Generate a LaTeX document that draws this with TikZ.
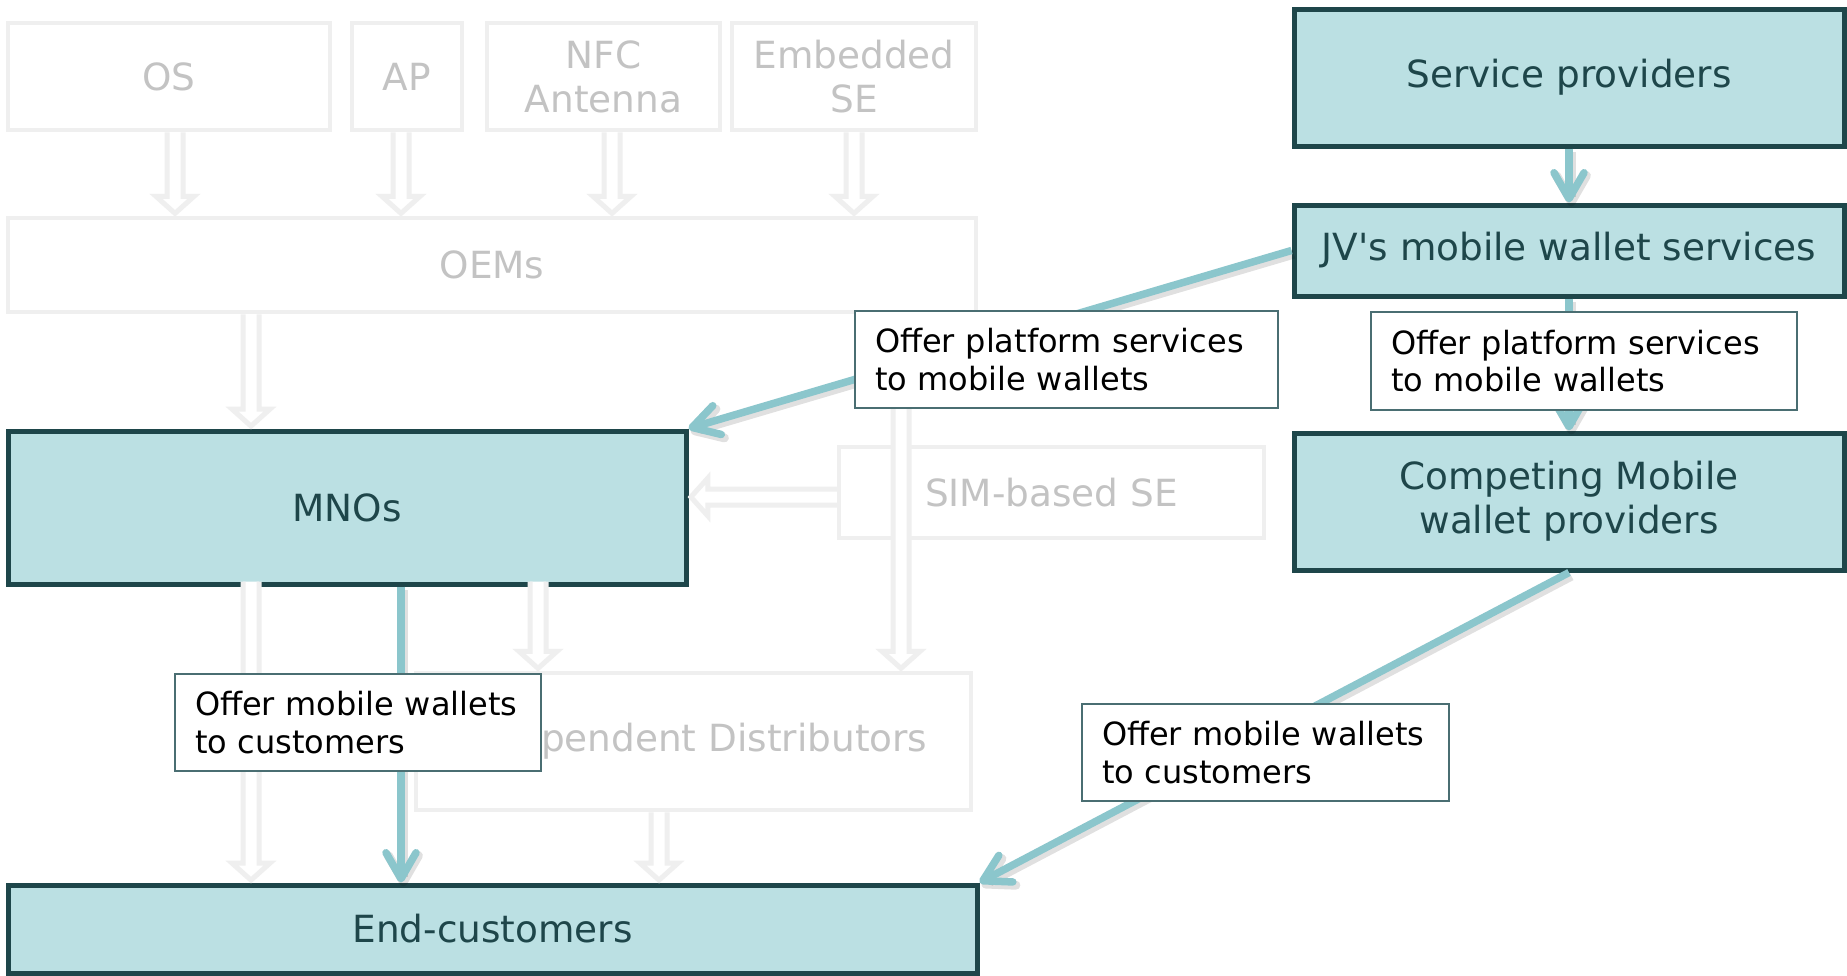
\documentclass[tikz,border=0pt]{standalone}
\usepackage{fontspec}
\setmainfont{DejaVu Sans}[Ligatures=TeXOff]
\usetikzlibrary{arrows.meta,calc}

\definecolor{fadeline}{HTML}{EFEFEF}
\definecolor{fadetext}{HTML}{C3C3C3}
\definecolor{boxfill}{HTML}{BBE0E3}
\definecolor{boxdraw}{HTML}{1E464A}
\definecolor{tealc}{HTML}{8BC6CC}
\definecolor{noteline}{HTML}{4A6E72}

\newcommand\mainfs{\fontsize{18.7}{22}\selectfont}
\newcommand\notefs{\fontsize{16}{18.9}\selectfont}

% box from pixel corners: style, name, x1, y1, x2, y2, text
\newcommand\placebox[7]{%
  \node[#1, minimum width={(#5-#3)*0.5pt}, minimum height={(#6-#4)*0.5pt}]
    (#2) at ({(#3+#5)/2},{(#4+#6)/2}) {#7};}
% note box: text set flush left with fixed padding
\newcommand\placenote[6]{%
  \node[notebox, text width={(#4-#2-40)*0.5pt}, minimum width={(#4-#2)*0.5pt},
    minimum height={(#5-#3)*0.5pt}] (#1) at ({(#2+#4)/2},{(#3+#5)/2}) {#6};}
% teal connector with a soft drop shadow
\newcommand\tealarrow[2]{%
  \draw[tshadow] #1 -- #2;
  \draw[tealline] #1 -- #2;}
% hollow block arrow (outlined shaft and head) between two points
\newcommand\fadeflow[2]{%
  \coordinate (ffa) at #1;
  \coordinate (ffb) at #2;
  \filldraw[fadeflowline]
    ($(ffa)!4pt!90:(ffb)$)
    -- ($(ffb)!9.7pt!(ffa)!4pt!90:(ffb)$)
    -- ($(ffb)!9.7pt!(ffa)!9.5pt!90:(ffb)$)
    -- ($(ffb)!1.2pt!(ffa)$)
    -- ($(ffb)!9.7pt!(ffa)!9.5pt!-90:(ffb)$)
    -- ($(ffb)!9.7pt!(ffa)!4pt!-90:(ffb)$)
    -- ($(ffa)!4pt!-90:(ffb)$);}

\begin{document}
\begin{tikzpicture}[x=0.5pt,y=-0.5pt,
  mainbox/.style={draw=boxdraw, fill=boxfill, line width=2.5pt, text=boxdraw,
    font=\mainfs, align=center, inner sep=0pt},
  fadebox/.style={draw=fadeline, line width=2.25pt, text=fadetext,
    font=\mainfs, align=center, inner sep=0pt},
  notebox/.style={draw=noteline, fill=white, line width=0.75pt, text=black,
    font=\notefs, align=left, inner xsep=10pt, inner ysep=0pt},
  fadeflowline/.style={draw=fadeline, fill=white, line width=2.5pt,
    line join=miter},
  tealline/.style={draw=tealc, line width=3.75pt,
    -{Straight Barb[round, length=13pt, width=15pt]}},
  tshadow/.style={draw=black, opacity=0.12, line width=4.5pt,
    -{Straight Barb[round, length=13pt, width=15pt]},
    transform canvas={xshift=1.2pt, yshift=-1.8pt}}]

\useasboundingbox (0,0) rectangle (1847,975);
\fill[white] (0,0) rectangle (1847,975);

% handset value chain (faded)
\placebox{fadebox}{OS}{8}{23}{330}{130}{OS}
\placebox{fadebox}{AP}{352}{23}{462}{130}{AP}
\placebox{fadebox}{NFC}{487}{23}{720}{130}{NFC\\Antenna}
\placebox{fadebox}{ESE}{732}{23}{976}{130}{Embedded\\SE}
\placebox{fadebox}{OEMs}{8}{218}{976}{312}{OEMs}
\placebox{fadebox}{SIM}{839}{447}{1264}{538}{SIM-based SE}
\placebox{fadebox}{IndDist}{416}{673}{971}{810}{Independent Distributors}

% highlighted players
\placebox{mainbox}{MNOs}{8}{431}{686}{584}{MNOs}
\placebox{mainbox}{End}{8}{885}{977}{973}{End-customers}
\placebox{mainbox}{SP}{1294}{9}{1844}{146}{Service providers}
\placebox{mainbox}{JV}{1294}{205}{1844}{296}{JV's mobile wallet services}
\placebox{mainbox}{Comp}{1294}{433}{1844}{570}{Competing Mobile\\wallet providers}

% faded flows
\fadeflow{(OS.south -| 175,0)}{(OEMs.north -| 175,0)}
\fadeflow{(AP.south -| 401,0)}{(OEMs.north -| 401,0)}
\fadeflow{(NFC.south -| 612,0)}{(OEMs.north -| 612,0)}
\fadeflow{(ESE.south -| 854,0)}{(OEMs.north -| 854,0)}
\fadeflow{(OEMs.south -| 251,0)}{(MNOs.north -| 251,0)}
\fadeflow{(OEMs.south -| 901,0)}{(IndDist.north -| 901,0)}
\fadeflow{(SIM.west |- 0,497)}{(MNOs.east |- 0,497)}
\fadeflow{($(MNOs.south -| 251,0)+(0,-5)$)}{(End.north -| 251,0)}
\fadeflow{($(MNOs.south -| 538,0)+(0,-5)$)}{(IndDist.north -| 538,0)}
\fadeflow{(IndDist.south -| 659,0)}{(End.north -| 659,0)}

% highlighted flows
\tealarrow{(SP.south)}{(JV.north)}
\tealarrow{(JV.south)}{(Comp.north)}
\tealarrow{(JV.west)}{(MNOs.north east)}
\tealarrow{(MNOs.south -| 401,0)}{(End.north -| 401,0)}
\tealarrow{(Comp.south)}{(End.north east)}

% flow labels
\placenote{L1}{855}{311}{1278}{408}{Offer platform services\\to mobile wallets}
\placenote{L2}{175}{674}{541}{771}{Offer mobile wallets\\to customers}
\placenote{L3}{1371}{312}{1797}{410}{Offer platform services\\to mobile wallets}
\placenote{L4}{1082}{704}{1449}{801}{Offer mobile wallets\\to customers}
\end{tikzpicture}
\end{document}
